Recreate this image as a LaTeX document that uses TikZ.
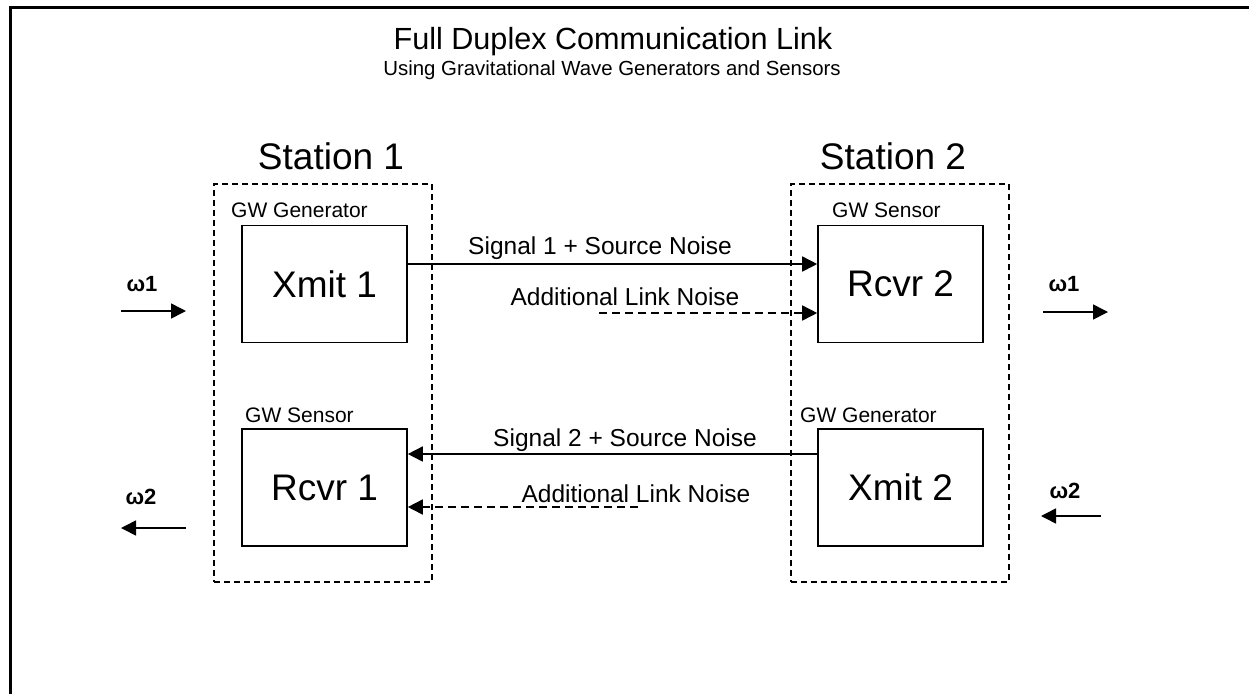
\documentclass[tikz,border=0pt]{standalone}
\usepackage{fontspec}
\setmainfont{Liberation Sans}
\usetikzlibrary{arrows.meta}
\begin{document}
\begin{tikzpicture}[x=1pt,y=-1pt,
  blk/.style={draw,line width=1.6pt,minimum width=165pt,minimum height=117pt,inner sep=0pt,font=\fontsize{37}{40}\selectfont},
  stbox/.style={draw,line width=1.6pt,dash pattern=on 6pt off 4pt},
  lbl/.style={inner sep=0pt,font=\fontsize{21}{24}\selectfont},
  sig/.style={line width=1.6pt,-{Triangle[length=15pt,width=15pt]}},
  noise/.style={line width=1.6pt,dash pattern=on 8pt off 5pt,-{Triangle[length=15pt,width=15pt]}},
  lnk/.style={inner sep=0pt,font=\fontsize{24.5}{27}\selectfont},
  om/.style={inner sep=0pt,font=\fontsize{22}{24}\selectfont\bfseries}]
\useasboundingbox (0,0) rectangle (1249,694);
\draw[line width=3pt] (10.5,694) -- (10.5,7.5) -- (1249,7.5);
\node[inner sep=0pt,font=\fontsize{30.6}{34}\selectfont] (title) at (613,42) {Full Duplex Communication Link};
\node[inner sep=0pt,font=\fontsize{20.4}{23}\selectfont] (sub) at (612,70) {Using Gravitational Wave Generators and Sensors};
\node[inner sep=0pt,font=\fontsize{37}{40}\selectfont] (st1) at (331,156) {Station 1};
\node[inner sep=0pt,font=\fontsize{37}{40}\selectfont] (st2) at (893,156) {Station 2};
\node[stbox,minimum width=218pt,minimum height=398pt,inner sep=0pt] (s1) at (323,383) {};
\node[stbox,minimum width=218pt,minimum height=398pt,inner sep=0pt] (s2) at (900,383) {};
\node[blk] (xmit1) at (324.5,284) {Xmit 1};
\node[blk] (rcvr1) at (324.5,487.5) {Rcvr 1};
\node[blk] (rcvr2) at (900.5,284) {Rcvr 2};
\node[blk] (xmit2) at (900.5,487.5) {Xmit 2};
\node[lbl,anchor=west] (g1) at (231,210) {GW Generator};
\node[lbl,anchor=west] (se1) at (245,415) {GW Sensor};
\node[lbl,anchor=west] (se2) at (832,210) {GW Sensor};
\node[lbl,anchor=west] (g2) at (800,415) {GW Generator};
\node[lnk] (l1) at (600,248) {Signal 1 + Source Noise};
\node[lnk] (l2) at (625,297) {Additional Link Noise};
\node[lnk] (l3) at (625,440) {Signal 2 + Source Noise};
\node[lnk] (l4) at (636,494) {Additional Link Noise};
\coordinate (y1) at (0,264);
\coordinate (n1) at (599,313);
\coordinate (y2) at (0,454);
\coordinate (n2) at (638,507);
\draw[sig] (xmit1.east |- y1) -- (rcvr2.west |- y1);
\draw[noise] (n1) -- (rcvr2.west |- n1);
\draw[sig] (xmit2.west |- y2) -- (rcvr1.east |- y2);
\draw[noise] (n2) -- (rcvr1.east |- n2);
\node[om] (w1a) at (142,284) {ω1};
\node[om] (w1b) at (1064,284) {ω1};
\node[om] (w2a) at (141,497) {ω2};
\node[om] (w2b) at (1065,491) {ω2};
\coordinate (a1s) at (121,311);
\coordinate (a1e) at (186,311);
\coordinate (b1s) at (1043,312);
\coordinate (b1e) at (1108,312);
\coordinate (a2s) at (186,528);
\coordinate (a2e) at (121,528);
\coordinate (b2s) at (1101,516);
\coordinate (b2e) at (1041,516);
\draw[sig] (a1s) -- (a1e);
\draw[sig] (b1s) -- (b1e);
\draw[sig] (a2s) -- (a2e);
\draw[sig] (b2s) -- (b2e);
\end{tikzpicture}
\end{document}
